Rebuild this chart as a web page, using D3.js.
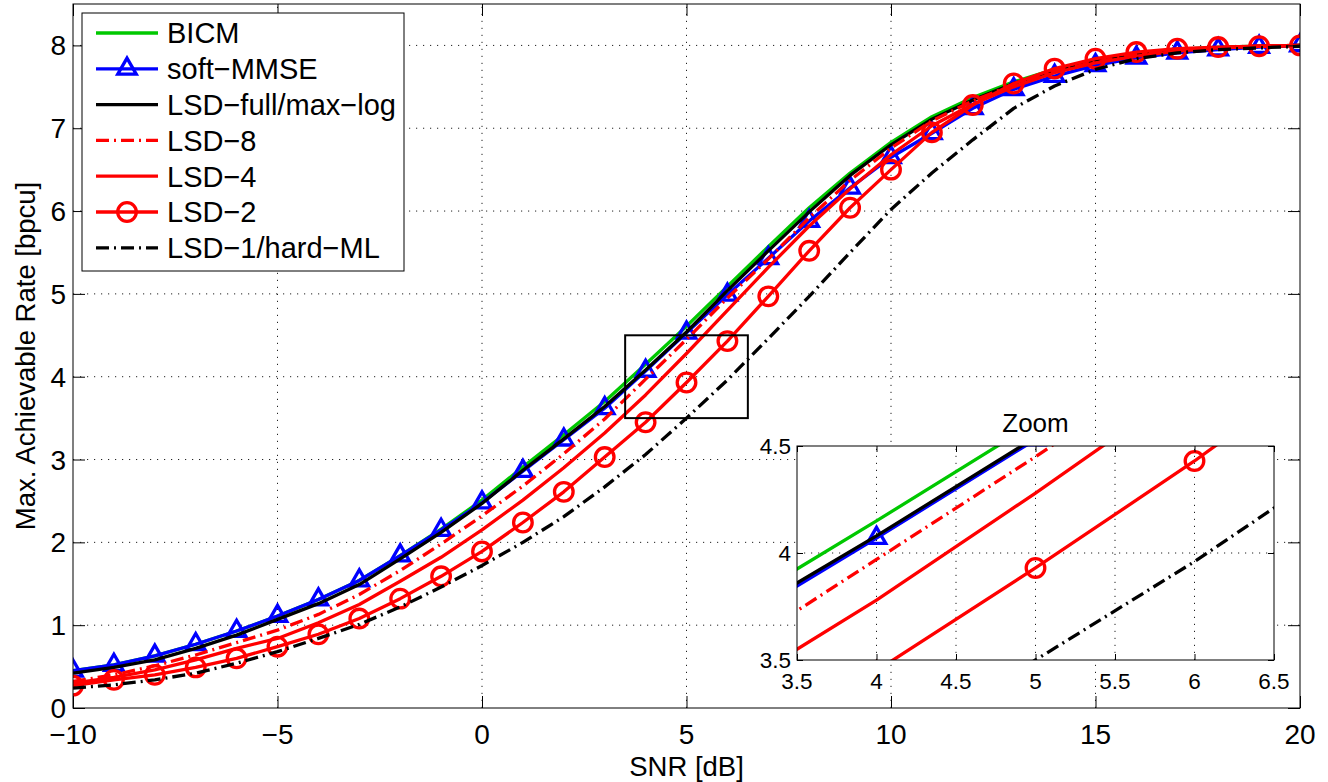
<!DOCTYPE html>
<html>
<head>
<meta charset="utf-8">
<script src="https://cdn.jsdelivr.net/npm/d3@7"></script>
<style>
  body { margin: 0; background: #fff; }
  svg { display: block; font-family: "Liberation Sans", Arial, Helvetica, sans-serif; }
</style>
</head>
<body>
<svg id="chart" width="1328" height="782"></svg>
<script>
// SNR grid in dB
const snr = d3.range(-10, 21);

// Max. achievable rate [bpcu] per detector
const bicm      = [0.45,0.52,0.63,0.77,0.93,1.11,1.31,1.54,1.84,2.16,2.51,2.91,3.30,3.70,4.15,4.61,5.09,5.57,6.04,6.46,6.83,7.14,7.37,7.56,7.71,7.82,7.90,7.95,7.98,7.99,8.00];
const softMMSE  = [0.45,0.52,0.63,0.77,0.93,1.11,1.31,1.54,1.84,2.15,2.48,2.86,3.24,3.62,4.07,4.53,4.99,5.43,5.88,6.28,6.65,6.94,7.24,7.47,7.63,7.76,7.85,7.91,7.95,7.98,8.00];
const lsdFull   = [0.42,0.49,0.58,0.72,0.88,1.07,1.26,1.49,1.80,2.12,2.47,2.87,3.25,3.64,4.08,4.54,5.04,5.52,5.99,6.43,6.80,7.11,7.34,7.54,7.70,7.81,7.89,7.94,7.97,7.99,8.00];
const lsd8      = [0.32,0.40,0.51,0.64,0.79,0.94,1.13,1.37,1.66,1.98,2.32,2.68,3.07,3.49,3.97,4.45,4.95,5.42,5.92,6.37,6.76,7.09,7.33,7.53,7.69,7.80,7.89,7.94,7.97,7.99,8.00];
const lsd4      = [0.30,0.37,0.46,0.58,0.72,0.84,1.03,1.25,1.53,1.82,2.15,2.51,2.90,3.32,3.78,4.28,4.80,5.32,5.82,6.27,6.68,7.03,7.29,7.50,7.67,7.79,7.87,7.93,7.97,7.99,8.00];
const lsd2      = [0.27,0.34,0.40,0.49,0.60,0.74,0.89,1.08,1.32,1.59,1.89,2.24,2.61,3.03,3.45,3.93,4.43,4.97,5.52,6.04,6.50,6.95,7.28,7.54,7.72,7.84,7.92,7.96,7.98,7.99,8.00];
const lsd1      = [0.24,0.28,0.34,0.42,0.54,0.68,0.84,1.01,1.22,1.46,1.72,2.00,2.31,2.67,3.06,3.50,3.96,4.46,4.97,5.50,6.02,6.46,6.86,7.24,7.51,7.71,7.84,7.91,7.95,7.97,7.99];

// Tick values
const xTicks = [-10, -5, 0, 5, 10, 15, 20];
const yTicks = [0, 1, 2, 3, 4, 5, 6, 7, 8];
const xTicksZoom = [3.5, 4, 4.5, 5, 5.5, 6, 6.5];
const yTicksZoom = [3.5, 4, 4.5];

const GREEN = "#00c800", BLUE = "#0000ff", RED = "#ff0000", BLACK = "#000000";
const DASHDOT = "13,5,2,5";
const LW = 3.3;

const series = [
  { name: "BICM",              values: bicm,     color: GREEN, dash: null,    marker: null },
  { name: "soft\u2212MMSE",        values: softMMSE, color: BLUE,  dash: null,    marker: "triangle" },
  { name: "LSD\u2212full/max\u2212log", values: lsdFull,  color: BLACK, dash: null,    marker: null },
  { name: "LSD\u22128",            values: lsd8,     color: RED,   dash: DASHDOT, marker: null },
  { name: "LSD\u22124",            values: lsd4,     color: RED,   dash: null,    marker: null },
  { name: "LSD\u22122",            values: lsd2,     color: RED,   dash: null,    marker: "circle" },
  { name: "LSD\u22121/hard\u2212ML",    values: lsd1,     color: BLACK, dash: DASHDOT, marker: null }
];

const svg = d3.select("#chart");
const fmt = v => String(v).replace("-", "\u2212");

// ---------- main axes ----------
const plot = { left: 73, right: 1300, top: 4, bottom: 708 };
const x = d3.scaleLinear().domain([-10, 20]).range([plot.left, plot.right]);
const y = d3.scaleLinear().domain([0, 8.5]).range([plot.bottom, plot.top]);

svg.append("defs").append("clipPath").attr("id", "clipMain")
  .append("rect").attr("x", plot.left).attr("y", plot.top)
  .attr("width", plot.right - plot.left).attr("height", plot.bottom - plot.top);

function drawGrid(g, xs, ys, xv, yv, box) {
  g.selectAll(".gx").data(xv).join("line")
    .attr("x1", d => xs(d)).attr("x2", d => xs(d))
    .attr("y1", box.bottom).attr("y2", box.top)
    .attr("stroke", "#222").attr("stroke-width", 1).attr("stroke-dasharray", "1.2,5.8");
  g.selectAll(".gy").data(yv).join("line")
    .attr("y1", d => ys(d)).attr("y2", d => ys(d))
    .attr("x1", box.left).attr("x2", box.right)
    .attr("stroke", "#222").attr("stroke-width", 1).attr("stroke-dasharray", "1.2,5.8");
}

function drawFrame(g, xs, ys, xv, yv, box, tick, fontSize, pad) {
  g.append("rect").attr("x", box.left).attr("y", box.top)
    .attr("width", box.right - box.left).attr("height", box.bottom - box.top)
    .attr("fill", "none").attr("stroke", "#000").attr("stroke-width", 1);
  const bottom = d3.axisBottom(xs).tickValues(xv).tickSize(-tick).tickFormat("");
  const top = d3.axisTop(xs).tickValues(xv).tickSize(-tick).tickFormat("");
  const left = d3.axisLeft(ys).tickValues(yv).tickSize(-tick).tickFormat("");
  const right = d3.axisRight(ys).tickValues(yv).tickSize(-tick).tickFormat("");
  [[bottom, `translate(0,${box.bottom})`], [top, `translate(0,${box.top})`],
   [left, `translate(${box.left},0)`], [right, `translate(${box.right},0)`]].forEach(([ax, tr]) => {
    const a = g.append("g").attr("transform", tr).call(ax);
    a.select(".domain").remove();
    a.selectAll(".tick line").attr("stroke", "#000").attr("stroke-width", 1);
  });
  g.selectAll(".xl").data(xv).join("text")
    .attr("x", d => xs(d)).attr("y", box.bottom + pad.x)
    .attr("text-anchor", "middle").attr("font-size", fontSize).attr("fill", "#000")
    .text(d => fmt(d));
  g.selectAll(".yl").data(yv).join("text")
    .attr("x", box.left - pad.y).attr("y", d => ys(d)).attr("dy", "0.36em")
    .attr("text-anchor", "end").attr("font-size", fontSize).attr("fill", "#000")
    .text(d => fmt(d));
}

// upward triangle centred on its centroid
const TRI = "M0,-10.7L9.25,5.35L-9.25,5.35Z";
const R = 9.3;

function drawCurves(g, xs, ys, clipId) {
  const cg = g.append("g").attr("clip-path", `url(#${clipId})`);
  const line = d3.line().x((d, i) => xs(snr[i])).y(d => ys(d));
  series.forEach(s => {
    cg.append("path").datum(s.values)
      .attr("d", line).attr("fill", "none")
      .attr("stroke", s.color).attr("stroke-width", LW)
      .attr("stroke-linejoin", "round")
      .attr("stroke-dasharray", s.dash);
    if (s.marker === "triangle") {
      cg.selectAll(null).data(s.values).join("path")
        .attr("d", TRI)
        .attr("transform", (d, i) => `translate(${xs(snr[i])},${ys(d)})`)
        .attr("fill", "none").attr("stroke", s.color).attr("stroke-width", LW);
    } else if (s.marker === "circle") {
      cg.selectAll(null).data(s.values).join("circle")
        .attr("cx", (d, i) => xs(snr[i])).attr("cy", d => ys(d)).attr("r", R)
        .attr("fill", "none").attr("stroke", s.color).attr("stroke-width", LW);
    }
  });
}

const main = svg.append("g");
drawGrid(main, x, y, xTicks.slice(1, -1), yTicks.slice(1), plot);
drawCurves(main, x, y, "clipMain");
drawFrame(main, x, y, xTicks, yTicks, plot, 12, 28, { x: 36, y: 7 });

// zoom region marker
main.append("rect")
  .attr("x", x(3.5)).attr("y", y(4.5))
  .attr("width", x(6.5) - x(3.5)).attr("height", y(3.5) - y(4.5))
  .attr("fill", "none").attr("stroke", "#000").attr("stroke-width", 2);

// axis titles
svg.append("text").attr("x", (plot.left + plot.right) / 2).attr("y", 776)
  .attr("text-anchor", "middle").attr("font-size", 27.5).text("SNR [dB]");
svg.append("text")
  .attr("transform", `translate(35,${(plot.top + plot.bottom) / 2}) rotate(-90)`)
  .attr("text-anchor", "middle").attr("font-size", 27.5)
  .text("Max. Achievable Rate [bpcu]");

// ---------- inset ----------
const inset = { left: 797, right: 1274, top: 446, bottom: 660 };
const xi = d3.scaleLinear().domain([3.5, 6.5]).range([inset.left, inset.right]);
const yi = d3.scaleLinear().domain([3.5, 4.5]).range([inset.bottom, inset.top]);

svg.select("defs").append("clipPath").attr("id", "clipInset")
  .append("rect").attr("x", inset.left).attr("y", inset.top)
  .attr("width", inset.right - inset.left).attr("height", inset.bottom - inset.top);

const ins = svg.append("g");
ins.append("rect").attr("x", inset.left).attr("y", inset.top)
  .attr("width", inset.right - inset.left).attr("height", inset.bottom - inset.top)
  .attr("fill", "#fff");
drawGrid(ins, xi, yi, xTicksZoom.slice(1, -1), yTicksZoom.slice(1, -1), inset);
drawCurves(ins, xi, yi, "clipInset");
drawFrame(ins, xi, yi, xTicksZoom, yTicksZoom, inset, 6, 22.5, { x: 29, y: 6 });
ins.append("text").attr("x", (inset.left + inset.right) / 2).attr("y", 432)
  .attr("text-anchor", "middle").attr("font-size", 26).text("Zoom");

// ---------- legend ----------
const leg = svg.append("g");
leg.append("rect").attr("x", 82).attr("y", 13).attr("width", 322).attr("height", 258)
  .attr("fill", "#fff").attr("stroke", "#000").attr("stroke-width", 1);
series.forEach((s, i) => {
  const cy = 33 + i * 35.8;
  leg.append("line").attr("x1", 96).attr("x2", 158).attr("y1", cy).attr("y2", cy)
    .attr("stroke", s.color).attr("stroke-width", LW).attr("stroke-dasharray", s.dash);
  if (s.marker === "triangle") {
    leg.append("path").attr("d", TRI).attr("transform", `translate(127,${cy})`)
      .attr("fill", "none").attr("stroke", s.color).attr("stroke-width", LW);
  } else if (s.marker === "circle") {
    leg.append("circle").attr("cx", 127).attr("cy", cy).attr("r", R)
      .attr("fill", "none").attr("stroke", s.color).attr("stroke-width", LW);
  }
  leg.append("text").attr("x", 167).attr("y", cy).attr("dy", "0.36em")
    .attr("font-size", 29).text(s.name);
});
</script>
</body>
</html>
